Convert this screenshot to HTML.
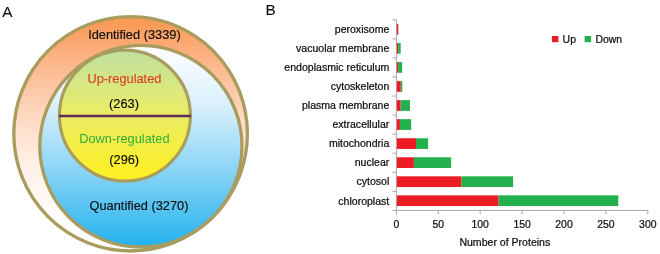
<!DOCTYPE html>
<html><head><meta charset="utf-8"><title>Figure</title>
<style>
html,body{margin:0;padding:0;background:#fff;}
svg{display:block;}
text{font-family:"Liberation Sans",Arial,sans-serif;fill:#0d0d0d;stroke:#0d0d0d;stroke-width:0.22px;}
</style></head>
<body>
<svg width="660" height="254" viewBox="0 0 660 254">
<defs>
<linearGradient id="gO" x1="0" y1="0" x2="0" y2="1">
<stop offset="0" stop-color="#fa9650"/>
<stop offset="0.2" stop-color="#fcb78c"/>
<stop offset="0.42" stop-color="#fdd8c0"/>
<stop offset="0.62" stop-color="#ffefe6"/>
<stop offset="0.85" stop-color="#fffdfb"/>
<stop offset="1" stop-color="#ffffff"/>
</linearGradient>
<linearGradient id="gQ" x1="0" y1="0" x2="0" y2="1">
<stop offset="0" stop-color="#ffffff"/>
<stop offset="0.3" stop-color="#d9f0fb"/>
<stop offset="0.6" stop-color="#8fd6f7"/>
<stop offset="1" stop-color="#22b2ee"/>
</linearGradient>
<linearGradient id="gI" x1="0" y1="0" x2="0" y2="1">
<stop offset="0" stop-color="#bfe0a0"/>
<stop offset="0.45" stop-color="#e8ec6a"/>
<stop offset="1" stop-color="#fff01e"/>
</linearGradient>
</defs>
<rect width="660" height="254" fill="#fff"/>
<ellipse cx="130.6" cy="133.8" rx="116.8" ry="117.2" fill="url(#gO)" stroke="#a89c5e" stroke-width="3.3"/>
<ellipse cx="140.9" cy="146.2" rx="101.1" ry="100.8" fill="url(#gQ)" stroke="#a89c5e" stroke-width="3.3"/>
<circle cx="124.9" cy="115.6" r="65.5" fill="url(#gI)" stroke="#a89c5e" stroke-width="3.1"/>
<line x1="59" y1="116" x2="191" y2="116" stroke="#5f2a5e" stroke-width="2.3"/>
<text x="2.2" y="16.8" font-size="15.3" style="stroke-width:0.1px">A</text>
<text x="265.5" y="15.0" font-size="15.3" style="stroke-width:0.1px">B</text>
<text x="134.4" y="38.8" font-size="12.8" text-anchor="middle" style="stroke-width:0.15px">Identified (3339)</text>
<text x="124.4" y="83" font-size="12.8" text-anchor="middle" style="fill:#dc4028;stroke:#dc4028;stroke-width:0.15px">Up-regulated</text>
<text x="124" y="107.6" font-size="12.8" text-anchor="middle" style="stroke-width:0.15px">(263)</text>
<text x="124.4" y="142.7" font-size="12.8" text-anchor="middle" style="fill:#2fab40;stroke:none">Down-regulated</text>
<text x="124.2" y="163.8" font-size="12.8" text-anchor="middle" style="stroke-width:0.15px">(296)</text>
<text x="139" y="210.1" font-size="12.8" text-anchor="middle" style="stroke-width:0.15px">Quantified (3270)</text>
<rect x="396.4" y="24.00" width="1.9" height="10.7" fill="#ed1c24"/>
<text x="389.3" y="33.15" font-size="10.55" text-anchor="end">peroxisome</text>
<rect x="398.1" y="43.04" width="2.6" height="10.7" fill="#22b14c"/>
<rect x="396.4" y="43.04" width="1.7" height="10.7" fill="#ed1c24"/>
<text x="389.3" y="52.19" font-size="10.55" text-anchor="end">vacuolar membrane</text>
<rect x="398.1" y="62.08" width="4.0" height="10.7" fill="#22b14c"/>
<rect x="396.4" y="62.08" width="1.7" height="10.7" fill="#ed1c24"/>
<text x="389.3" y="71.23" font-size="10.55" text-anchor="end">endoplasmic reticulum</text>
<rect x="400.7" y="81.12" width="1.6" height="10.7" fill="#22b14c"/>
<rect x="396.4" y="81.12" width="4.3" height="10.7" fill="#ed1c24"/>
<text x="389.3" y="90.27" font-size="10.55" text-anchor="end">cytoskeleton</text>
<rect x="400.5" y="100.16" width="9.5" height="10.7" fill="#22b14c"/>
<rect x="396.4" y="100.16" width="4.1" height="10.7" fill="#ed1c24"/>
<text x="389.3" y="109.31" font-size="10.55" text-anchor="end">plasma membrane</text>
<rect x="399.9" y="119.20" width="11.3" height="10.7" fill="#22b14c"/>
<rect x="396.4" y="119.20" width="3.5" height="10.7" fill="#ed1c24"/>
<text x="389.3" y="128.35" font-size="10.55" text-anchor="end">extracellular</text>
<rect x="416.0" y="138.24" width="12.1" height="10.7" fill="#22b14c"/>
<rect x="396.4" y="138.24" width="19.6" height="10.7" fill="#ed1c24"/>
<text x="389.3" y="147.39" font-size="10.55" text-anchor="end">mitochondria</text>
<rect x="413.9" y="157.28" width="37.2" height="10.7" fill="#22b14c"/>
<rect x="396.4" y="157.28" width="17.5" height="10.7" fill="#ed1c24"/>
<text x="389.3" y="166.43" font-size="10.55" text-anchor="end">nuclear</text>
<rect x="461.3" y="176.32" width="51.8" height="10.7" fill="#22b14c"/>
<rect x="396.4" y="176.32" width="64.9" height="10.7" fill="#ed1c24"/>
<text x="389.3" y="185.47" font-size="10.55" text-anchor="end">cytosol</text>
<rect x="498.4" y="195.36" width="119.9" height="10.7" fill="#22b14c"/>
<rect x="396.4" y="195.36" width="102.0" height="10.7" fill="#ed1c24"/>
<text x="389.3" y="204.51" font-size="10.55" text-anchor="end">chloroplast</text>
<path d="M396.4 19.8V214.4" stroke="#a6a6a6" stroke-width="1" fill="none"/>
<path d="M392.4 210.4H647.8" stroke="#a6a6a6" stroke-width="1" fill="none"/>
<path d="M392.4 19.80H396.4" stroke="#a6a6a6" stroke-width="1" fill="none"/>
<path d="M392.4 38.86H396.4" stroke="#a6a6a6" stroke-width="1" fill="none"/>
<path d="M392.4 57.92H396.4" stroke="#a6a6a6" stroke-width="1" fill="none"/>
<path d="M392.4 76.98H396.4" stroke="#a6a6a6" stroke-width="1" fill="none"/>
<path d="M392.4 96.04H396.4" stroke="#a6a6a6" stroke-width="1" fill="none"/>
<path d="M392.4 115.10H396.4" stroke="#a6a6a6" stroke-width="1" fill="none"/>
<path d="M392.4 134.16H396.4" stroke="#a6a6a6" stroke-width="1" fill="none"/>
<path d="M392.4 153.22H396.4" stroke="#a6a6a6" stroke-width="1" fill="none"/>
<path d="M392.4 172.28H396.4" stroke="#a6a6a6" stroke-width="1" fill="none"/>
<path d="M392.4 191.34H396.4" stroke="#a6a6a6" stroke-width="1" fill="none"/>
<path d="M438.30 210.4V214.4" stroke="#a6a6a6" stroke-width="1" fill="none"/>
<path d="M480.20 210.4V214.4" stroke="#a6a6a6" stroke-width="1" fill="none"/>
<path d="M522.10 210.4V214.4" stroke="#a6a6a6" stroke-width="1" fill="none"/>
<path d="M564.00 210.4V214.4" stroke="#a6a6a6" stroke-width="1" fill="none"/>
<path d="M605.90 210.4V214.4" stroke="#a6a6a6" stroke-width="1" fill="none"/>
<path d="M647.80 210.4V214.4" stroke="#a6a6a6" stroke-width="1" fill="none"/>
<text x="396.40" y="227.8" font-size="10.45" text-anchor="middle">0</text>
<text x="438.30" y="227.8" font-size="10.45" text-anchor="middle">50</text>
<text x="480.20" y="227.8" font-size="10.45" text-anchor="middle">100</text>
<text x="522.10" y="227.8" font-size="10.45" text-anchor="middle">150</text>
<text x="564.00" y="227.8" font-size="10.45" text-anchor="middle">200</text>
<text x="605.90" y="227.8" font-size="10.45" text-anchor="middle">250</text>
<text x="647.80" y="227.8" font-size="10.45" text-anchor="middle">300</text>
<text x="459.4" y="245.6" font-size="10.55">Number of Proteins</text>
<rect x="551.9" y="36" width="6.5" height="6.2" fill="#ed1c24"/>
<text x="562.6" y="42.6" font-size="10.45">Up</text>
<rect x="584.6" y="36" width="6.5" height="6.2" fill="#22b14c"/>
<text x="595.4" y="42.6" font-size="10.45">Down</text>
</svg>
</body></html>
